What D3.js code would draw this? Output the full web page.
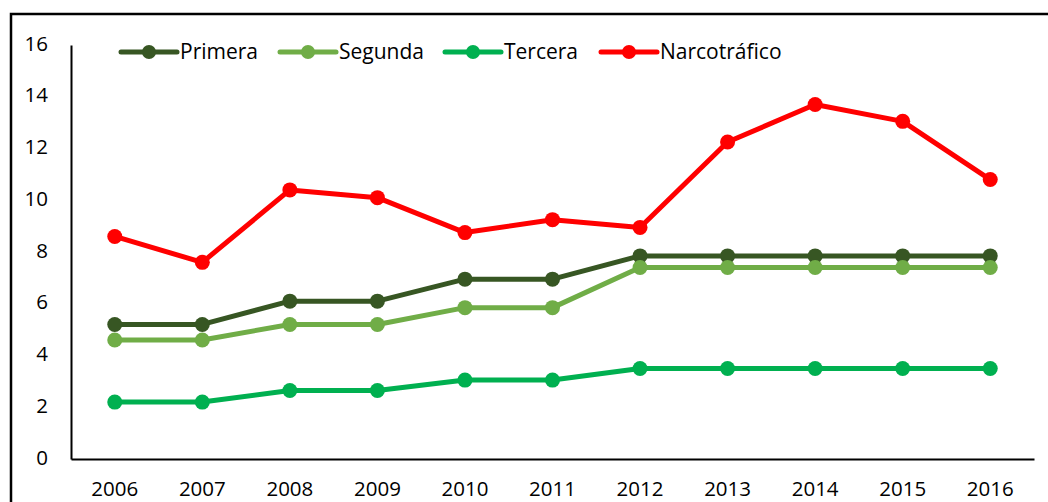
<!DOCTYPE html>
<html>
<head>
<meta charset="utf-8">
<script src="https://cdn.jsdelivr.net/npm/d3@7"></script>
<style>
  body { margin: 0; background: #fff; }
  text { font-family: "Open Sans", "Liberation Sans", sans-serif; fill: #000; }
</style>
</head>
<body>
<div id="chart"></div>
<script>
var years = ["2006","2007","2008","2009","2010","2011","2012","2013","2014","2015","2016"];
var primera = [5.2, 5.2, 6.1, 6.1, 6.95, 6.95, 7.85, 7.85, 7.85, 7.85, 7.85];
var segunda = [4.6, 4.6, 5.2, 5.2, 5.85, 5.85, 7.4, 7.4, 7.4, 7.4, 7.4];
var tercera = [2.2, 2.2, 2.65, 2.65, 3.05, 3.05, 3.5, 3.5, 3.5, 3.5, 3.5];
var narco = [8.6, 7.6, 10.4, 10.1, 8.75, 9.25, 8.95, 12.25, 13.7, 13.05, 10.8];
var yTicks = [0, 2, 4, 6, 8, 10, 12, 14, 16];

var series = [
  { name: "Primera", values: primera, color: "#375623" },
  { name: "Segunda", values: segunda, color: "#70AD47" },
  { name: "Tercera", values: tercera, color: "#00B050" },
  { name: "Narcotráfico", values: narco, color: "#FF0000" }
];

var width = 1048, height = 502;
var margin = { top: 45, left: 71, right: 14, bottom: 43 };

var svg = d3.select("#chart").append("svg")
  .attr("width", width)
  .attr("height", height);

// outer frame (the picture is cropped, so only top and left show)
svg.append("rect")
  .attr("x", 11).attr("y", 14)
  .attr("width", 1100).attr("height", 600)
  .attr("fill", "none")
  .attr("stroke", "#000")
  .attr("stroke-width", 2.5);

var x = d3.scaleBand()
  .domain(years)
  .range([margin.left, width - margin.right]);

var y = d3.scaleLinear()
  .domain([0, 16])
  .range([height - margin.bottom, margin.top]);

// x axis
var xAxis = svg.append("g")
  .attr("transform", "translate(0," + (height - margin.bottom) + ")")
  .call(d3.axisBottom(x).tickSize(0).tickPadding(22));
xAxis.select(".domain").attr("stroke", "#000").attr("stroke-width", 2);
xAxis.selectAll("text").style("font-size", "20.5px");

// y axis
var yAxis = svg.append("g")
  .attr("transform", "translate(" + margin.left + ",0)")
  .call(d3.axisLeft(y).tickValues(yTicks).tickSize(0).tickPadding(23));
yAxis.select(".domain").attr("stroke", "#000").attr("stroke-width", 2);
yAxis.selectAll("text").style("font-size", "20.5px").attr("dy", "0.25em");

var line = d3.line()
  .x(function(d, i) { return x(years[i]) + x.bandwidth() / 2; })
  .y(function(d) { return y(d); });

series.forEach(function(s) {
  var g = svg.append("g");
  g.append("path")
    .attr("d", line(s.values))
    .attr("fill", "none")
    .attr("stroke", s.color)
    .attr("stroke-width", 5)
    .attr("stroke-linejoin", "round");
  g.selectAll("circle")
    .data(s.values)
    .enter().append("circle")
    .attr("cx", function(d, i) { return x(years[i]) + x.bandwidth() / 2; })
    .attr("cy", function(d) { return y(d); })
    .attr("r", 7.5)
    .attr("fill", s.color);
});

// legend
var legendX = [121, 280, 445, 601];
var legend = svg.append("g");
series.forEach(function(s, i) {
  var lx = legendX[i], ly = 52;
  legend.append("line")
    .attr("x1", lx).attr("x2", lx + 56)
    .attr("y1", ly).attr("y2", ly)
    .attr("stroke", s.color)
    .attr("stroke-width", 5)
    .attr("stroke-linecap", "round");
  legend.append("circle")
    .attr("cx", lx + 28).attr("cy", ly).attr("r", 7)
    .attr("fill", s.color);
  legend.append("text")
    .attr("x", lx + 59).attr("y", ly)
    .attr("dy", "0.35em")
    .style("font-size", "21px")
    .text(s.name);
});
</script>
</body>
</html>
